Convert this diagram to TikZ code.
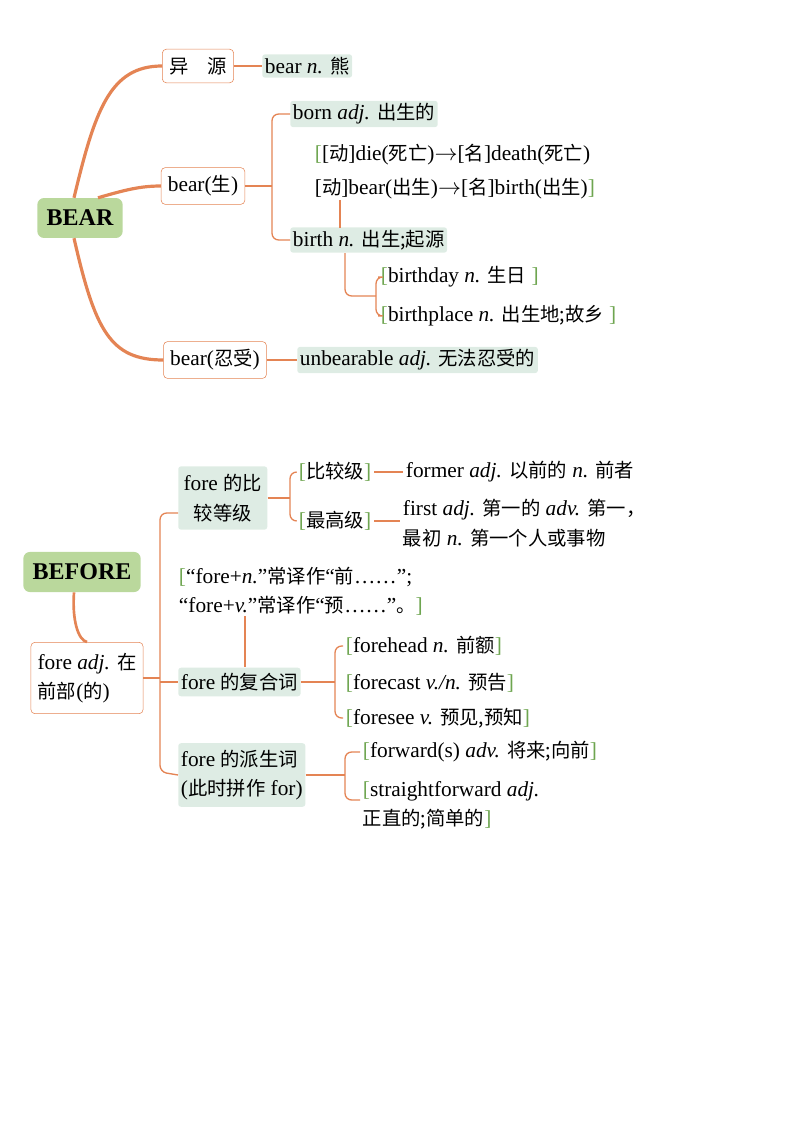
\documentclass[tikz,border=0pt]{standalone}
\usepackage{fontspec}
\setmainfont{Liberation Serif}
\newfontfamily\cjk{Noto Sans CJK SC}
\usetikzlibrary{positioning}
\newcommand{\zh}[1]{{\cjk\fontsize{14.5}{20}\selectfont #1}}
\newcommand{\lb}{{\color{brk}[}}
\newcommand{\rb}{{\color{brk}]}}
\definecolor{ora}{RGB}{228,132,84}
\definecolor{brk}{RGB}{110,165,80}
\definecolor{leaf}{RGB}{222,236,228}
\definecolor{rootg}{RGB}{186,216,156}
\begin{document}
\begin{tikzpicture}[x=0.75pt,y=0.75pt,yscale=-1,xscale=1,
  every node/.style={font=\fontsize{16}{22}\selectfont, inner sep=2pt},
  root/.style={fill=rootg, rounded corners=5pt, font=\fontsize{18}{20}\selectfont\bfseries, inner xsep=7pt, inner ysep=9pt},
  box/.style={draw=ora, fill=white, rounded corners=3pt, inner xsep=5pt, inner ysep=6pt},
  leaf/.style={fill=leaf, rounded corners=2pt, anchor=west},
  txt/.style={anchor=west},
  thick line/.style={draw=ora, line width=2.4pt},
  thin line/.style={draw=ora, line width=1pt, rounded corners=5pt}]
\useasboundingbox (0,0) rectangle (794,1123);

%BEAR
\node[root] (bear) at (80,218) {BEAR};
\node[box] (yiyuan) at (198,66) {\zh{异\quad 源}};
\node[box] (sheng) at (203,186) {bear(\zh{生})};
\node[box] (renshou) at (215,360) {bear(\zh{忍受})};
\node[leaf] (xiong) at (262,66) {bear \textit{n.} \zh{熊}};
\node[leaf] (born) at (290,114) {born \textit{adj.} \zh{出生的}};
\node[txt] (die) at (312,155) {\lb[\zh{动}]die(\zh{死亡})$\rightarrow$[\zh{名}]death(\zh{死亡})};
\node[txt] (birthv) at (312,189) {[\zh{动}]bear(\zh{出生})$\rightarrow$[\zh{名}]birth(\zh{出生})\rb};
\node[leaf] (birth) at (290,240) {birth \textit{n.} \zh{出生;起源}};
\node[txt] (birthday) at (378,277) {\lb birthday \textit{n.} \zh{生日} \rb};
\node[txt] (birthplace) at (378,316) {\lb birthplace \textit{n.} \zh{出生地;故乡} \rb};
\node[leaf] (unbear) at (297,360) {unbearable \textit{adj.} \zh{无法忍受的}};

\draw[thick line] (bear.north) ++(-6,0) .. controls (95,110) and (110,66) .. (yiyuan.west);
\draw[thick line] (bear.north) ++(18,0) .. controls (125,190) and (140,186) .. (sheng.west);
\draw[thick line] (bear.south) ++(-6,0) .. controls (95,330) and (110,360) .. (renshou.west);
\draw[thin line] (yiyuan.east) -- (xiong.west);
\draw[thin line] (renshou.east) -- (unbear.west);
\draw[thin line] (sheng.east) -- (272,186);
\draw[thin line] (born.west) -| (272,240) -- (birth.west);
\draw[thin line] (340,200) -- (340,228);
\draw[thin line] (345,253) -- (345,296) -- (376,296);
\draw[thin line] (birthday.west) -| (376,316) -- (birthplace.west);

%BEFORE
\node[root] (before) at (82,572) {BEFORE};
\node[box, align=left, inner ysep=8pt] (fore) at (87,678) {fore \textit{adj.} \zh{在}\\\zh{前部}(\zh{的})};
\node[leaf, align=center, inner xsep=4pt, inner ysep=6pt] (bijiao) at (178,498) {fore \zh{的比}\\\zh{较等级}};
\node[txt] (bjj) at (296,472) {\lb\zh{比较级}\rb};
\node[txt] (former) at (403,472) {former \textit{adj.} \zh{以前的} \textit{n.} \zh{前者}};
\node[txt] (zgj) at (296,521) {\lb\zh{最高级}\rb};
\node[txt, align=left] (first) at (400,523) {first \textit{adj.} \zh{第一的} \textit{adv.} \zh{第一，}\\\zh{最初} \textit{n.} \zh{第一个人或事物}};
\node[txt, align=left] (note) at (176,591) {\lb``fore+\textit{n.}''\zh{常译作}``\zh{前}……'';\\``fore+\textit{v.}''\zh{常译作}``\zh{预}……''\zh{。}\rb};
\node[leaf, inner ysep=4pt] (fuhe) at (178,682) {fore \zh{的复合词}};
\node[txt] (forehead) at (343,646) {\lb forehead \textit{n.} \zh{前额}\rb};
\node[txt] (forecast) at (343,683) {\lb forecast \textit{v./n.} \zh{预告}\rb};
\node[txt] (foresee) at (343,718) {\lb foresee \textit{v.} \zh{预见,预知}\rb};
\node[leaf, align=left, inner ysep=5pt] (paisheng) at (178,775) {fore \zh{的派生词}\\(\zh{此时拼作} for)};
\node[txt] (forward) at (360,752) {\lb forward(s) \textit{adv.} \zh{将来;向前}\rb};
\node[txt, align=left] (straight) at (360,805) {\lb straightforward \textit{adj.}\\\zh{正直的;简单的}\rb};

\draw[thick line, line width=2pt] (before.south) ++(-8,0) .. controls (72,620) and (78,640) .. (fore.north);
\draw[thin line] (fore.east) -- (160,678);
\draw[thin line] (bijiao.west) ++(0,15) -| (160,772) -- (paisheng.west);
\draw[thin line] (160,682) -- (fuhe.west);
\draw[thin line] (bijiao.east) -- (290,498);
\draw[thin line] (bjj.west) -| (290,521) -- (zgj.west);
\draw[thin line] (bjj.east) -- (former.west);
\draw[thin line] (zgj.east) -- (zgj.east -| first.west);
\draw[thin line] (245,616) -- (fuhe.north -| 245,0);
\draw[thin line] (fuhe.east) -- (335,682);
\draw[thin line] (forehead.west) -| (335,718) -- (foresee.west);
\draw[thin line] (paisheng.east) -- (345,775);
\draw[thin line] (forward.west) -| (345,800) -- (360,800);
\end{tikzpicture}
\end{document}
